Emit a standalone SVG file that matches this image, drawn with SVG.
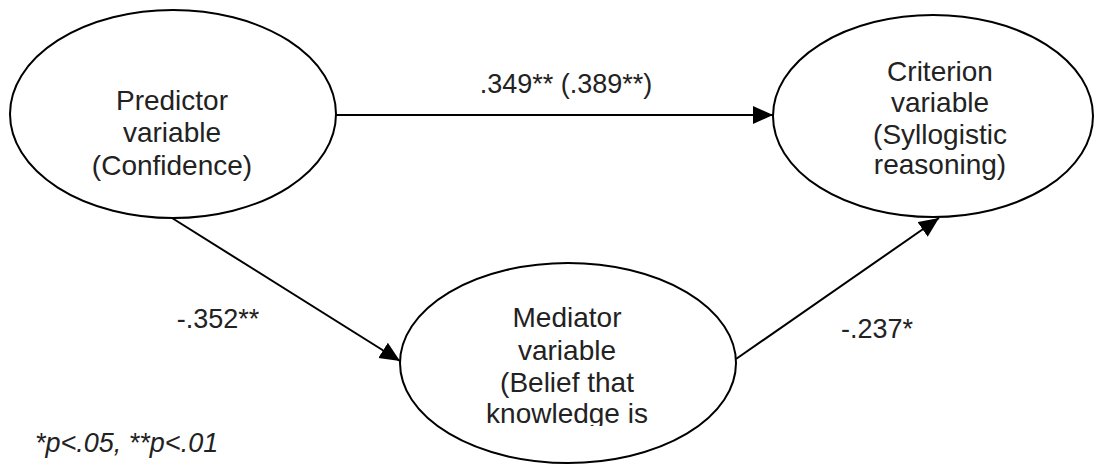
<svg xmlns="http://www.w3.org/2000/svg" width="1094" height="464" viewBox="0 0 1094 464">
<style>
.node{fill:#fff;stroke:#000;stroke-width:2}
.t{font-family:"Liberation Sans",Arial,sans-serif;font-size:28px;fill:#222;text-anchor:middle}
.lbl{font-family:"Liberation Sans",Arial,sans-serif;font-size:27px;fill:#222}
.edge{stroke:#000;stroke-width:2;fill:none}
</style>
<defs>
<marker id="ah" markerUnits="userSpaceOnUse" markerWidth="22" markerHeight="20" refX="20" refY="9" orient="auto">
<path d="M0,0 L20,9 L0,18 Z" fill="#000"/>
</marker>
<clipPath id="clipCrit"><rect x="760" y="0" width="334" height="181"/></clipPath>
<clipPath id="clipMed"><rect x="390" y="250" width="360" height="176"/></clipPath>
</defs>
<rect width="1094" height="464" fill="#fff"/>
<g id="predictor">
<ellipse class="node" cx="173" cy="114" rx="163" ry="104"/>
<text class="t" x="172" y="110">Predictor</text>
<text class="t" x="172" y="142">variable</text>
<text class="t" x="172" y="175">(Confidence)</text>
</g>
<g id="criterion">
<ellipse class="node" cx="933" cy="116" rx="160" ry="101"/>
<g clip-path="url(#clipCrit)">
<text class="t" x="940" y="81">Criterion</text>
<text class="t" x="940" y="112">variable</text>
<text class="t" x="940" y="144">(Syllogistic</text>
<text class="t" x="940" y="174">reasoning)</text>
</g>
</g>
<g id="mediator">
<ellipse class="node" cx="568" cy="363" rx="168" ry="100"/>
<g clip-path="url(#clipMed)">
<text class="t" x="567" y="327">Mediator</text>
<text class="t" x="567" y="360">variable</text>
<text class="t" x="567" y="392">(Belief that</text>
<text class="t" x="567" y="423">knowledge is</text>
</g>
</g>
<g id="connectors">
<line class="edge" x1="336" y1="115" x2="773" y2="115" marker-end="url(#ah)"/>
<line class="edge" x1="172" y1="218" x2="400" y2="361" marker-end="url(#ah)"/>
<line class="edge" x1="736" y1="359" x2="939" y2="218" marker-end="url(#ah)"/>
</g>
<g id="labels">
<text class="lbl" x="566" y="93" text-anchor="middle">.349** (.389**)</text>
<text class="lbl" x="218" y="328" text-anchor="middle">-.352**</text>
<text class="lbl" x="877" y="338" text-anchor="middle">-.237*</text>
<text class="lbl" x="35" y="452" font-style="italic">*p&lt;.05, **p&lt;.01</text>
</g>
</svg>
